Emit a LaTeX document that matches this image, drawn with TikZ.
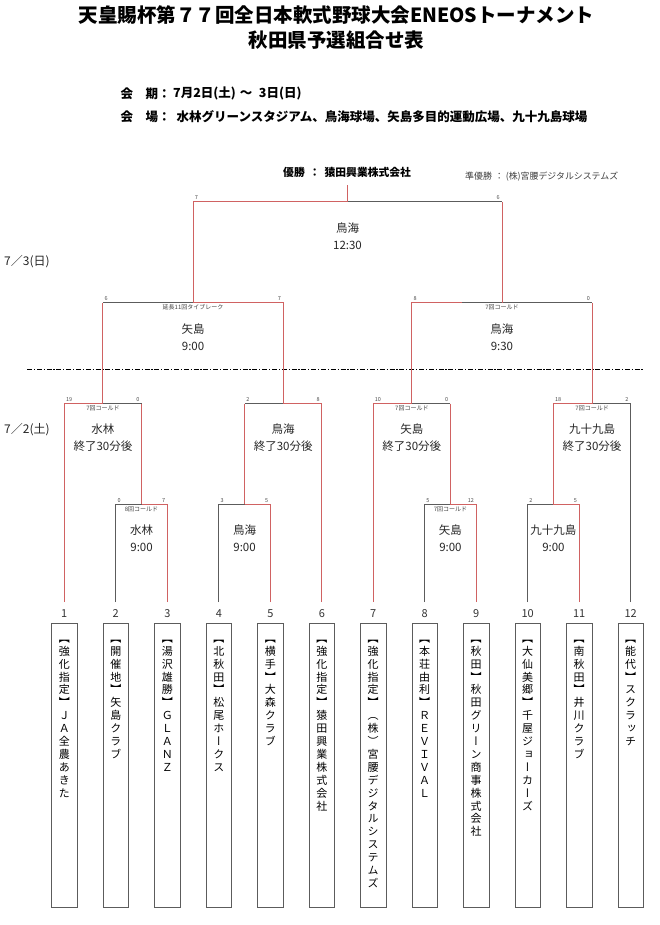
\documentclass[tikz,border=0pt]{standalone}
\usepackage{fontspec}
\setmainfont{Noto Sans CJK JP}
\newfontfamily\tatefont[RawFeature=+vert]{Noto Sans CJK JP}
\usetikzlibrary{calc}
\definecolor{winred}{RGB}{208,98,98}
\definecolor{losegray}{RGB}{92,92,92}
\tikzstyle{win}=[winred, line width=0.9pt]
\tikzstyle{lose}=[losegray, line width=0.9pt]
\tikzstyle{teambox}=[draw=losegray, line width=0.8pt, minimum width=25.5pt, minimum height=284pt, inner sep=0pt, anchor=north]
\tikzstyle{teamno}=[font=\fontsize{11}{11}\selectfont, text=black!80, inner sep=0pt]
\tikzstyle{score}=[font=\fontsize{5.5}{6}\selectfont, text=black!70, inner sep=0pt]
\tikzstyle{note}=[font=\fontsize{6}{6}\selectfont, text=black!75, inner sep=0pt, anchor=north, yshift=-1.8pt]
\tikzstyle{venue}=[font=\fontsize{11.5}{16.5}\selectfont, align=center, text=black!85, inner sep=0pt]
\tikzstyle{day}=[font=\fontsize{12}{12}\selectfont, text=black!85, inner sep=0pt, anchor=west]
\tikzstyle{info}=[font=\bfseries\fontsize{12.5}{12.5}\selectfont, inner sep=0pt, anchor=west]
\tikzstyle{title}=[font=\bfseries\fontsize{19.5}{19.5}\selectfont, inner sep=0pt]
% one character per cell, top to bottom
\def\tateloop#1{\ifx#1\relax\else\hbox to 25.5pt{\hss\raisebox{0pt}[10.65pt][2.25pt]{#1}\hss}\expandafter\tateloop\fi}
\newcommand\tate[1]{\vbox to 284pt{\offinterlineskip\tatefont\fontsize{11}{12.9}\selectfont\vskip 8.25pt\tateloop#1\relax\vss}}

\begin{document}
\begin{tikzpicture}[x=1pt, y=-1pt]
    \useasboundingbox (0,0) rectangle (659,925);
% Title
    \node[title] (title1) at (336.5,15) {天皇賜杯第７７回全日本軟式野球大会ENEOSトーナメント};
    \node[title] (title2) at (336.5,40.5) {秋田県予選組合せ表};
    \node[info] (kikan) at (120.5,93.3) {会　期：};
    \node[info] (kikanv) at (173,93.3) {7月2日(土)\hspace{4pt}～\hspace{6.5pt}3日(日)};
    \node[info] (kaijo) at (120.5,116.7) {会　場：};
    \node[info] (kaijov) at (176.5,116.7) {水林グリーンスタジアム、鳥海球場、矢島多目的運動広場、九十九島球場};
% Result
    \node[font=\bfseries\fontsize{10.8}{10.8}\selectfont, inner sep=0pt, anchor=west] (champname) at (283,172) {優勝\hspace{4.5pt}：\hspace{4.5pt}猿田興業株式会社};
    \node[font=\fontsize{8.9}{8.9}\selectfont, text=black!75, inner sep=0pt, anchor=west] (second) at (465,176.7) {準優勝\hspace{3pt}：\hspace{2pt}(株)宮腰デジタルシステムズ};
% Days
    \node[day] (day2) at (4,261.7) {7／3(日)};
    \node[day] (day1) at (4,429.3) {7／2(土)};
    \draw[line width=0.9pt, dash pattern=on 5pt off 1.8pt on 1.2pt off 1.8pt] (27,369.3) -- (643,369.3);
% Teams
    \node[teamno] (n1) at (64.3,613.5) {1};
    \node[teamno] (n2) at (115.8,613.5) {2};
    \node[teamno] (n3) at (167.3,613.5) {3};
    \node[teamno] (n4) at (218.8,613.5) {4};
    \node[teamno] (n5) at (270.3,613.5) {5};
    \node[teamno] (n6) at (321.8,613.5) {6};
    \node[teamno] (n7) at (373.2,613.5) {7};
    \node[teamno] (n8) at (424.7,613.5) {8};
    \node[teamno] (n9) at (476.2,613.5) {9};
    \node[teamno] (n10) at (527.7,613.5) {10};
    \node[teamno] (n11) at (579.2,613.5) {11};
    \node[teamno] (n12) at (630.7,613.5) {12};
    \node[teambox] (t1) at (64.3,623) {\tate{【強化指定】ＪＡ全農あきた}};
    \node[teambox] (t2) at (115.8,623) {\tate{【開催地】矢島クラブ}};
    \node[teambox] (t3) at (167.3,623) {\tate{【湯沢雄勝】ＧＬＡＮＺ}};
    \node[teambox] (t4) at (218.8,623) {\tate{【北秋田】松尾ホークス}};
    \node[teambox] (t5) at (270.3,623) {\tate{【横手】大森クラブ}};
    \node[teambox] (t6) at (321.8,623) {\tate{【強化指定】猿田興業株式会社}};
    \node[teambox] (t7) at (373.2,623) {\tate{【強化指定】（株）宮腰デジタルシステムズ}};
    \node[teambox] (t8) at (424.7,623) {\tate{【本荘由利】ＲＥＶＩＶＡＬ}};
    \node[teambox] (t9) at (476.2,623) {\tate{【秋田】秋田グリーン商事株式会社}};
    \node[teambox] (t10) at (527.7,623) {\tate{【大仙美郷】千屋ジョーカーズ}};
    \node[teambox] (t11) at (579.2,623) {\tate{【南秋田】井川クラブ}};
    \node[teambox] (t12) at (630.7,623) {\tate{【能代】スクラッチ}};
% Feet of the bracket
    \coordinate (f1) at (64.3,602);
    \coordinate (f2) at (115.8,602);
    \coordinate (f3) at (167.3,602);
    \coordinate (f4) at (218.8,602);
    \coordinate (f5) at (270.3,602);
    \coordinate (f6) at (321.8,602);
    \coordinate (f7) at (373.2,602);
    \coordinate (f8) at (424.7,602);
    \coordinate (f9) at (476.2,602);
    \coordinate (f10) at (527.7,602);
    \coordinate (f11) at (579.2,602);
    \coordinate (f12) at (630.7,602);
% Joints of the matches
    \coordinate (mA) at (141.55,504.3);
    \coordinate (mB) at (244.55,504.3);
    \coordinate (mF) at (450.45,504.3);
    \coordinate (mG) at (553.45,504.3);
    \coordinate (mC) at (102.93,403.7);
    \coordinate (mD) at (283.18,403.7);
    \coordinate (mE) at (411.83,403.7);
    \coordinate (mH) at (592.08,403.7);
    \coordinate (mSL) at (193.05,302.7);
    \coordinate (mSR) at (501.95,302.7);
    \coordinate (qSR) at (462.3,302.7);
    \coordinate (mFin) at (347.5,201.7);
    \coordinate (champ) at (347.5,185);
% First round, 7/2
    \draw[lose] (f2) |- (mA);
    \draw[win] (f3) |- (mA);
    \draw[lose] (f4) |- (mB);
    \draw[win] (f5) |- (mB);
    \draw[lose] (f8) |- (mF);
    \draw[win] (f9) |- (mF);
    \draw[lose] (f10) |- (mG);
    \draw[win] (f11) |- (mG);
% Second round, 7/2
    \draw[lose] (mA |- mC) -- (mC);
    \draw[win] (mA) -- (mA |- mC);
    \draw[win] (f1) |- (mC);
    \draw[lose] (mB |- mD) -- (mD);
    \draw[win] (mB) -- (mB |- mD);
    \draw[win] (f6) |- (mD);
    \draw[lose] (mF |- mE) -- (mE);
    \draw[win] (mF) -- (mF |- mE);
    \draw[win] (f7) |- (mE);
    \draw[lose] (f12) |- (mH);
    \draw[win] (mG) |- (mH);
% Semifinals, 7/3
    \draw[lose] (mC |- mSL) -- (mSL);
    \draw[win] (mC) -- (mC |- mSL);
    \draw[win] (mD) |- (mSL);
    \draw[lose] (mH |- mSR) -- (qSR);
    \draw[win] (mH) -- (mH |- mSR);
    \draw[win] (mE) |- (qSR);
% Final, 7/3
    \draw[lose] (mSR |- mFin) -- (mFin);
    \draw[win] (mSR) -- (mSR |- mFin);
    \draw[win] (mSL) |- (mFin);
    \draw[win] (mFin) -- (champ);
% Scores
    \node[score, anchor=base west, xshift=1.5pt, yshift=2pt] at (f2 |- mA) {0};
    \node[score, anchor=base east, xshift=-2pt, yshift=2pt] at (f3 |- mA) {7};
    \node[score, anchor=base west, xshift=1.5pt, yshift=2pt] at (f4 |- mB) {3};
    \node[score, anchor=base east, xshift=-2pt, yshift=2pt] at (f5 |- mB) {5};
    \node[score, anchor=base west, xshift=1.5pt, yshift=2pt] at (f8 |- mF) {5};
    \node[score, anchor=base east, xshift=-2pt, yshift=2pt] at (f9 |- mF) {12};
    \node[score, anchor=base west, xshift=1.5pt, yshift=2pt] at (f10 |- mG) {2};
    \node[score, anchor=base east, xshift=-2pt, yshift=2pt] at (f11 |- mG) {5};
    \node[score, anchor=base west, xshift=1.5pt, yshift=2pt] at (f1 |- mC) {19};
    \node[score, anchor=base east, xshift=-2pt, yshift=2pt] at (mA |- mC) {0};
    \node[score, anchor=base west, xshift=1.5pt, yshift=2pt] at (mB |- mD) {2};
    \node[score, anchor=base east, xshift=-2pt, yshift=2pt] at (f6 |- mD) {8};
    \node[score, anchor=base west, xshift=1.5pt, yshift=2pt] at (f7 |- mE) {10};
    \node[score, anchor=base east, xshift=-2pt, yshift=2pt] at (mF |- mE) {0};
    \node[score, anchor=base west, xshift=1.5pt, yshift=2pt] at (mG |- mH) {18};
    \node[score, anchor=base east, xshift=-2pt, yshift=2pt] at (f12 |- mH) {2};
    \node[score, anchor=base west, xshift=1.5pt, yshift=2pt] at (mC |- mSL) {6};
    \node[score, anchor=base east, xshift=-2pt, yshift=2pt] at (mD |- mSL) {7};
    \node[score, anchor=base west, xshift=1.5pt, yshift=2pt] at (mE |- mSR) {8};
    \node[score, anchor=base east, xshift=-2pt, yshift=2pt] at (mH |- mSR) {0};
    \node[score, anchor=base west, xshift=1.5pt, yshift=2pt] at (mSL |- mFin) {7};
    \node[score, anchor=base east, xshift=-2pt, yshift=2pt] at (mSR |- mFin) {6};
% Notes under the joints
    \node[note] at (mA) {8回コールド};
    \node[note] at (mF) {7回コールド};
    \node[note] at (mC) {7回コールド};
    \node[note] at (mE) {7回コールド};
    \node[note] at (mH) {7回コールド};
    \node[note] at (mSL) {延長11回タイブレーク};
    \node[note] at (mSR) {7回コールド};
% Venues and times
    \node[venue] (vA) at (141.55,538) {水林\\9:00};
    \node[venue] (vB) at (244.55,538) {鳥海\\9:00};
    \node[venue] (vF) at (450.45,538) {矢島\\9:00};
    \node[venue] (vG) at (553.45,538) {九十九島\\9:00};
    \node[venue] (vC) at (102.93,437.7) {水林\\終了30分後};
    \node[venue] (vD) at (283.18,437.7) {鳥海\\終了30分後};
    \node[venue] (vE) at (411.83,437.7) {矢島\\終了30分後};
    \node[venue] (vH) at (592.08,437.7) {九十九島\\終了30分後};
    \node[venue] (vSL) at (193.05,337) {矢島\\9:00};
    \node[venue] (vSR) at (501.95,337) {鳥海\\9:30};
    \node[venue] (vFin) at (347.5,236.3) {鳥海\\12:30};
\end{tikzpicture}
\end{document}
